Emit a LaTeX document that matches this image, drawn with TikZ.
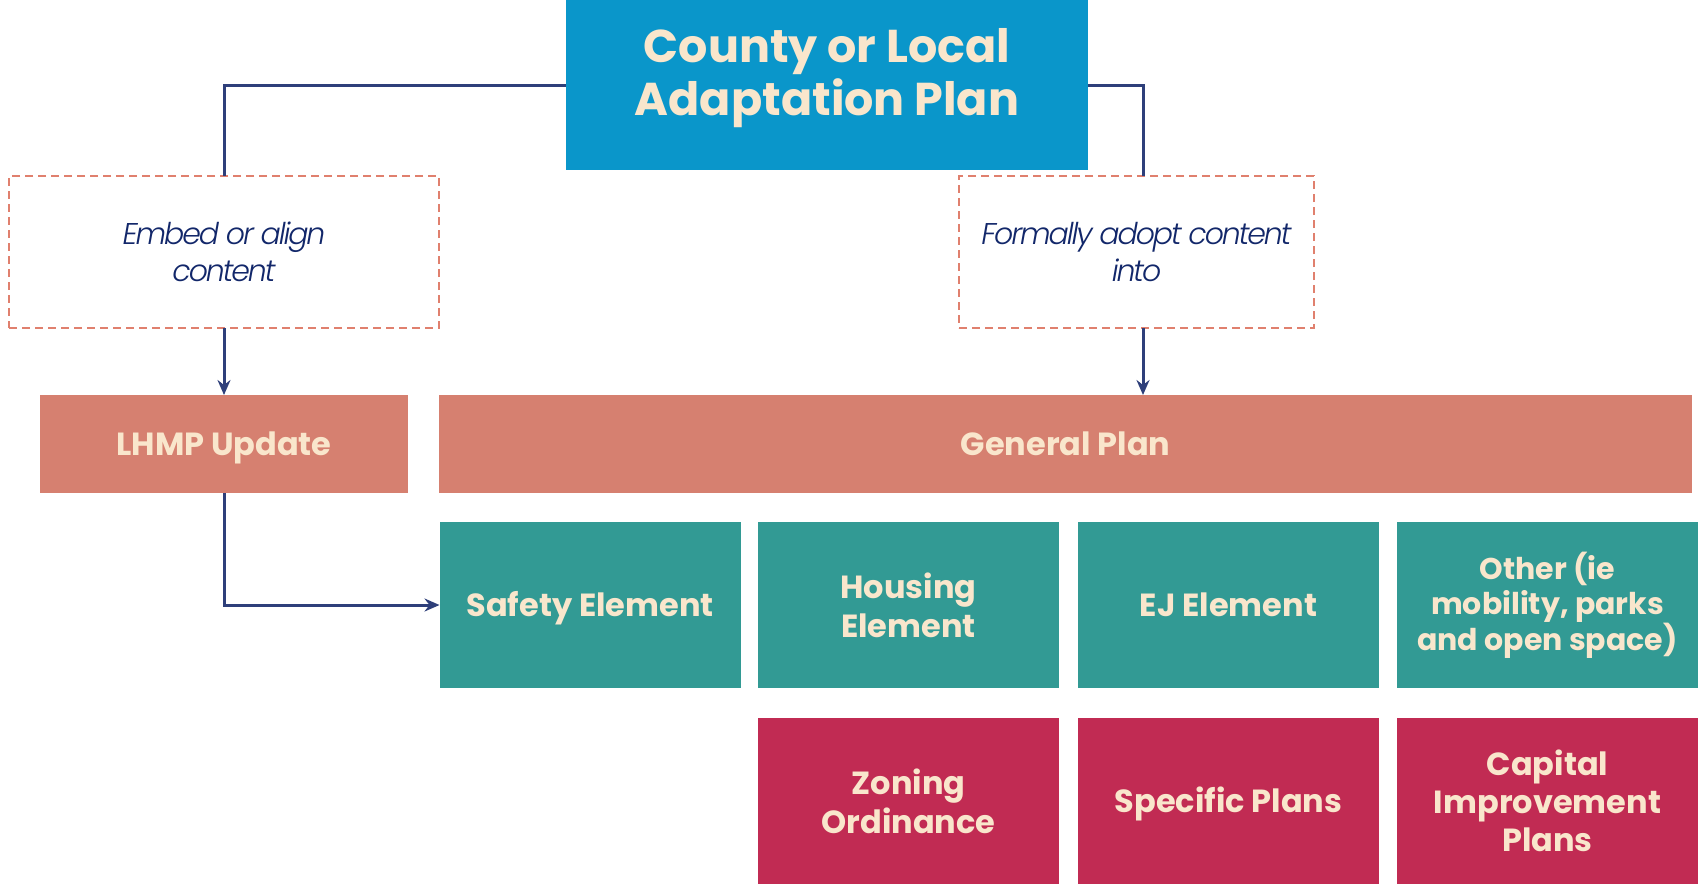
\documentclass[tikz,border=0pt]{standalone}
\usepackage{fontspec}
\setmainfont{Poppins}
\newfontfamily\itfont{Poppins Light}[LetterSpace=-7]
\usetikzlibrary{arrows.meta}
\definecolor{topblue}{HTML}{0A96CA}
\definecolor{salmon}{HTML}{D68070}
\definecolor{teal}{HTML}{329A94}
\definecolor{crimson}{HTML}{C12B53}
\definecolor{navy}{HTML}{2E3F7A}
\definecolor{ink}{HTML}{12276A}
\definecolor{cream}{HTML}{F9E6CC}
\definecolor{dashc}{HTML}{E0806E}
\tikzset{
  box/.style={inner sep=0pt, outer sep=0pt, align=center, text=cream, font=\fontsize{32}{39}\selectfont\bfseries},
  onel/.style={text height=22.5pt, text depth=0pt},
  lhmpbox/.style={box, onel, fill=salmon, minimum height=98pt},
  elembox/.style={box, fill=teal, minimum width=301pt, minimum height=166pt},
  implbox/.style={box, fill=crimson, minimum width=301pt, minimum height=166pt},
  dbox/.style={draw=dashc, line width=2pt, dash pattern=on 8pt off 5pt, inner sep=0pt, outer sep=0pt, minimum height=152pt, align=center, text=ink, font=\fontsize{30}{37}\selectfont\itfont\itshape},
  conn/.style={draw=navy, line width=3pt},
  arr/.style={conn, -{Stealth[length=15pt,width=13pt,inset=5pt]}}
}
\begin{document}
\begin{tikzpicture}[x=1pt,y=-1pt]
\useasboundingbox[fill=white] (0,0) rectangle (1700,886);
\node[fill=topblue, inner sep=0pt, outer sep=0pt, minimum width=522pt, minimum height=170pt,
  label={[box, yshift=7pt, font=\fontsize{46}{53}\selectfont\bfseries]center:{County or Local\\Adaptation Plan}}] (top) at (827,85) {};
\node[dbox, minimum width=430pt] (embed) at (224,252) {Embed or align\\content};
\node[dbox, minimum width=355pt] (formal) at (1136.5,252) {Formally adopt content\\into};
\node[lhmpbox, minimum width=368pt] (lhmp) at (224,444) {LHMP Update};
\node[lhmpbox, minimum width=1253pt] (gp) at (1065.5,444) {General Plan};
\node[elembox, onel] (safety) at (590,605) {Safety Element};
\node[elembox] (housing) at (908.5,605) {Housing\\Element};
\node[elembox, onel] (ej) at (1228.5,605) {EJ Element};
\node[elembox, font=\fontsize{30}{35.5}\selectfont\bfseries] (other) at (1547.5,605) {Other (ie\\mobility, parks\\and open space)};
\node[implbox] (zoning) at (908.5,801) {Zoning\\Ordinance};
\node[implbox, onel] (specific) at (1228.5,801) {Specific Plans};
\node[implbox, font=\fontsize{32}{38}\selectfont\bfseries] (capital) at (1547.5,801) {Capital\\Improvement\\Plans};
\coordinate (rtop) at ([xshift=6.5pt]formal.north);
\coordinate (rbot) at ([xshift=6.5pt]formal.south);
\draw[conn] (top.west) -| (embed.north);
\draw[conn] (top.east) -| (rtop);
\draw[arr] (embed.south) -- (lhmp.north);
\draw[arr] (rbot) -- (rbot |- gp.north);
\draw[arr] (lhmp.south) |- (safety.west);
\end{tikzpicture}
\end{document}
